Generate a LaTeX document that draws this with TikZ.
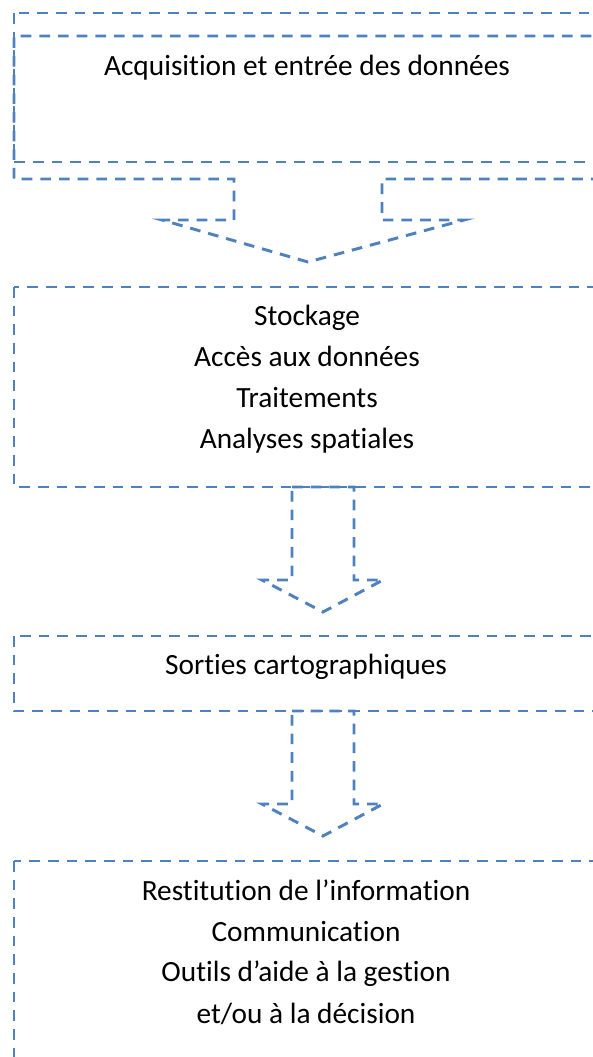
\documentclass[tikz,border=0pt]{standalone}
\usepackage{fontspec}
\setmainfont{Carlito}[Ligatures=NoCommon]
\definecolor{boxblue}{RGB}{79,129,189}

\begin{document}
\begin{tikzpicture}[x=0.375pt,y=-0.375pt,
    dashline/.style={draw=boxblue, line width=1.1pt, dash pattern=on 4pt off 3pt},
    txt/.style={anchor=base, inner sep=0pt, font=\fontsize{11}{13}\selectfont}]
      \useasboundingbox (0,0) rectangle (593,1057);
      \clip (0,0) rectangle (593,1057);
      \def\xr{610}
      % input block: frame and callout with its wide arrow
      \draw[dashline] (14,13) rectangle (\xr,162);
      \draw[dashline] (\xr,36) -- (14,36) -- (14,179) -- (234,179) -- (234,220) -- (162,220)
        -- (308,262) -- (464,220) -- (382,220) -- (382,179) -- (\xr,179);
      \node[txt] (acq) at (307,76) {Acquisition et entrée des données};
      % storage / processing
      \draw[dashline] (14,287) rectangle (\xr,487);
      \node[txt] (stock) at (307,326) {Stockage};
      \node[txt] (acces) at (307,367) {Accès aux données};
      \node[txt] (trait) at (307,408) {Traitements};
      \node[txt] (analyse) at (307,448) {Analyses spatiales};
      \draw[dashline] (292,487) -- (354,487) -- (354,580) -- (383,580) -- (323,612)
        -- (262,580) -- (292,580) -- cycle;
      % maps
      \draw[dashline] (14,636) rectangle (\xr,711);
      \node[txt] (sorties) at (306,674) {Sorties cartographiques};
      \draw[dashline] (292,711) -- (354,711) -- (354,804) -- (383,804) -- (323,836)
        -- (262,804) -- (292,804) -- cycle;
      % output
      \draw[dashline] (14,861) rectangle (\xr,1090);
      \node[txt] (restit) at (306,900) {Restitution de l’information};
      \node[txt] (comm) at (306,941) {Communication};
      \node[txt] (outils) at (306,981) {Outils d’aide à la gestion};
      \node[txt] (decision) at (306,1023) {et/ou à la décision};
\end{tikzpicture}
\end{document}
